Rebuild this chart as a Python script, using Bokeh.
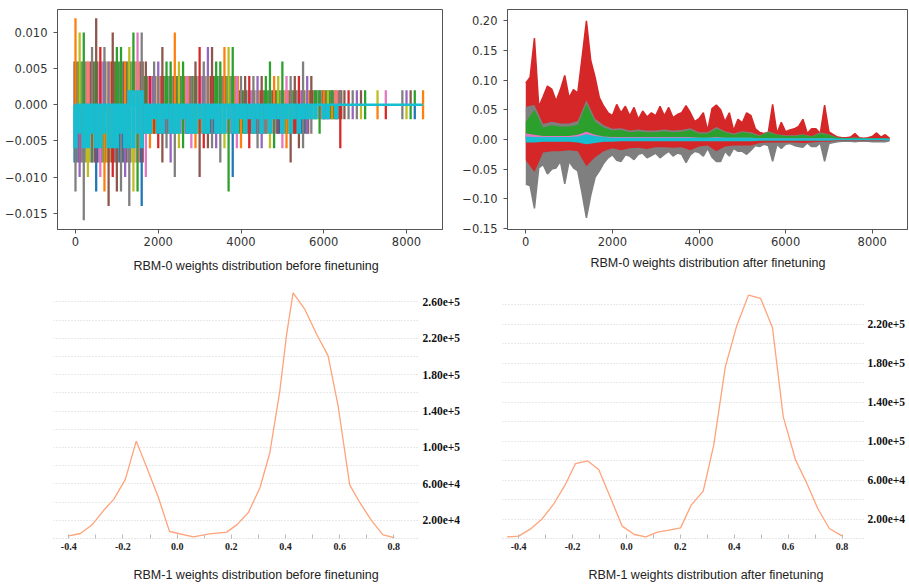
from bokeh.plotting import figure
from bokeh.layouts import column, row
from bokeh.models import FixedTicker, Range1d, Title
from bokeh.embed import file_html
from bokeh.resources import INLINE

# ---------------- data: RBM-0 before finetuning (envelopes per 100-step bin)
tl_x = list(range(0, 8401, 100))
tl_hi = [0.012, 0.010, 0.010, 0.006, 0.008, 0.012, 0.008, 0.008, 0.006, 0.010,
         0.008, 0.008, 0.006, 0.008, 0.010, 0.010, 0.010, 0.006, 0.004, 0.006,
         0.006, 0.008, 0.006, 0.006, 0.010, 0.006, 0.006, 0.004, 0.004, 0.006,
         0.008, 0.006, 0.008, 0.008, 0.006, 0.006, 0.008, 0.008, 0.008, 0.004,
         0.004, 0.004, 0.004, 0.004, 0.004, 0.004, 0.004, 0.006, 0.004, 0.004,
         0.006, 0.004, 0.004, 0.004, 0.004, 0.006, 0.004, 0.004, 0.002, 0.002,
         0.002, 0.002, 0.002, 0.002, 0.002, 0.002, 0.002, 0.002, 0.002, 0.002,
         0.002, 0.0, 0.0, 0.002, 0.0, 0.002, 0.0, 0.0, 0.0, 0.002,
         0.002, 0.002, 0.002, 0.0, 0.002]
tl_lo = [-0.012, -0.010, -0.016, -0.010, -0.008, -0.012, -0.010, -0.012, -0.014, -0.010,
         -0.012, -0.012, -0.010, -0.014, -0.012, -0.012, -0.014, -0.010, -0.006, -0.004,
         -0.006, -0.008, -0.006, -0.008, -0.010, -0.006, -0.006, -0.004, -0.006, -0.006,
         -0.010, -0.006, -0.006, -0.006, -0.006, -0.008, -0.006, -0.012, -0.010, -0.006,
         -0.006, -0.004, -0.006, -0.004, -0.006, -0.006, -0.004, -0.006, -0.006, -0.004,
         -0.006, -0.006, -0.008, -0.004, -0.006, -0.006, -0.004, -0.004, -0.002, -0.004,
         -0.002, -0.002, -0.002, -0.002, -0.006, -0.002, -0.002, -0.002, -0.002, -0.002,
         -0.002, 0.0, 0.0, -0.002, 0.0, -0.002, 0.0, 0.0, 0.0, -0.002,
         -0.002, -0.002, -0.002, 0.0, -0.002]
# dense band levels by x segment
tl_fill_start = [0, 1700, 4000, 5700, 6500]
tl_fill_end = [1700, 4000, 5700, 6500, 8500]
tl_fill_top = [0.006, 0.004, 0.002, 0.002, 0.0]
tl_fill_bot = [-0.008, -0.004, -0.004, -0.002, 0.0]
# last (cyan) series
tl_core_lo = [-0.006, -0.004, -0.006, -0.006, -0.004, -0.006, -0.006, -0.004, -0.006, -0.006,
              -0.006, -0.004, -0.006, -0.006, -0.006, -0.004, -0.006,
              -0.004, -0.004, -0.002, -0.004, -0.004, -0.002, -0.004, -0.004, -0.004, -0.002,
              -0.004, -0.004, -0.004, -0.002, -0.004, -0.004, -0.002, -0.004, -0.004, -0.004,
              -0.002, -0.004, -0.004, -0.002, -0.004, -0.002, -0.004, -0.002, -0.004, -0.002,
              -0.004, -0.002, -0.002, -0.004, -0.002, -0.004, -0.002, -0.004, -0.002,
              -0.002, -0.002, -0.002, 0.0, -0.002, -0.002, 0.0, -0.002] + [0.0] * 21
tl_core_hi = [0.0] * 13 + [0.002] * 4 + [0.0] * 68
tl_xticks = [0, 2000, 4000, 6000, 8000]
tl_yticks = [0.010, 0.005, 0.0, -0.005, -0.010, -0.015]
tl_ylabels = ["0.010", "0.005", "0.000", "\u22120.005", "\u22120.010", "\u22120.015"]

# ---------------- data: RBM-0 after finetuning
tr_x = list(range(0, 8401, 100))
tr_red_hi = [0.095, 0.105, 0.171, 0.055, 0.072, 0.090, 0.085, 0.065, 0.084, 0.108,
             0.070, 0.084, 0.078, 0.138, 0.200, 0.133, 0.105, 0.070, 0.056, 0.045,
             0.040, 0.059, 0.045, 0.056, 0.040, 0.054, 0.034, 0.048, 0.038, 0.045,
             0.040, 0.056, 0.040, 0.054, 0.037, 0.042, 0.045, 0.057, 0.045, 0.030,
             0.035, 0.045, 0.015, 0.052, 0.058, 0.050, 0.030, 0.045, 0.015, 0.034,
             0.028, 0.045, 0.040, 0.018, 0.012, 0.010, 0.012, 0.059, 0.010, 0.029,
             0.013, 0.016, 0.018, 0.022, 0.034, 0.010, 0.018, 0.018, 0.010, 0.058,
             0.013, 0.008, 0.004, 0.003, 0.003, 0.004, 0.010, 0.003, 0.002, 0.003,
             0.005, 0.011, 0.004, 0.008, 0.002]
tr_gray_lo = [-0.075, -0.078, -0.116, -0.048, -0.042, -0.058, -0.050, -0.048, -0.037, -0.075,
              -0.037, -0.048, -0.053, -0.091, -0.132, -0.094, -0.064, -0.053, -0.040, -0.031,
              -0.026, -0.035, -0.037, -0.026, -0.028, -0.034, -0.025, -0.023, -0.031, -0.027,
              -0.023, -0.031, -0.025, -0.020, -0.028, -0.023, -0.025, -0.039, -0.026, -0.020,
              -0.022, -0.028, -0.015, -0.030, -0.037, -0.037, -0.020, -0.028, -0.015, -0.020,
              -0.020, -0.025, -0.018, -0.010, -0.012, -0.008, -0.010, -0.037, -0.008, -0.015,
              -0.008, -0.007, -0.010, -0.012, -0.013, -0.006, -0.012, -0.012, -0.006, -0.037,
              -0.007, -0.005, -0.004, -0.003, -0.003, -0.003, -0.004, -0.003, -0.003, -0.003,
              -0.004, -0.004, -0.004, -0.004, -0.002]
tr_x2 = list(range(0, 8401, 200))
tr_red_lo = [-0.035, -0.055, -0.022, -0.020, -0.020, -0.018, -0.020, -0.045, -0.030, -0.020,
             -0.015, -0.018, -0.015, -0.014, -0.016, -0.013, -0.013, -0.014, -0.013, -0.018,
             -0.012, -0.010, -0.020, -0.012, -0.010, -0.010, -0.010, -0.006, -0.005, -0.005,
             -0.005, -0.005, -0.006, -0.005, -0.004, -0.004, -0.002, -0.002, -0.002, -0.002,
             -0.002, -0.002, -0.001]
tr_gray_hi = [0.055, 0.058, 0.026, 0.030, 0.027, 0.027, 0.031, 0.066, 0.035, 0.024,
              0.018, 0.019, 0.015, 0.017, 0.015, 0.015, 0.017, 0.015, 0.016, 0.019,
              0.012, 0.012, 0.021, 0.014, 0.010, 0.014, 0.012, 0.007, 0.014, 0.009,
              0.007, 0.007, 0.009, 0.006, 0.012, 0.009, 0.0035, 0.0025, 0.0035, 0.0025,
              0.0025, 0.0025, 0.0012]
tr_green_hi = [0.030, 0.050, 0.020, 0.024, 0.022, 0.022, 0.025, 0.060, 0.030, 0.020,
               0.015, 0.016, 0.012, 0.014, 0.012, 0.012, 0.014, 0.012, 0.013, 0.016,
               0.010, 0.010, 0.018, 0.012, 0.008, 0.012, 0.010, 0.006, 0.012, 0.008,
               0.006, 0.006, 0.008, 0.005, 0.010, 0.008, 0.003, 0.002, 0.003, 0.002,
               0.002, 0.002, 0.001]
tr_pink_hi = [0.010, 0.008, 0.006, 0.006, 0.006, 0.006, 0.008, 0.013, 0.008, 0.005,
              0.004, 0.004, 0.004, 0.004, 0.004, 0.004, 0.004, 0.004, 0.004, 0.004,
              0.003, 0.003, 0.004, 0.003, 0.003, 0.003, 0.003, 0.002, 0.002, 0.002,
              0.002, 0.002, 0.002, 0.002, 0.002, 0.002, 0.001, 0.001, 0.001, 0.001,
              0.001, 0.001, 0.001]
tr_cyan_hi = [0.005, 0.004, 0.004, 0.004, 0.004, 0.004, 0.005, 0.009, 0.006, 0.004,
              0.003, 0.003, 0.003, 0.003, 0.003, 0.003, 0.003, 0.003, 0.003, 0.003,
              0.003, 0.003, 0.003, 0.003, 0.003, 0.003, 0.003, 0.002, 0.002, 0.002,
              0.002, 0.002, 0.002, 0.002, 0.002, 0.002, 0.0015, 0.0015, 0.0015, 0.0015,
              0.0015, 0.0015, 0.0015]
tr_cyan_lo = [-0.005, -0.005, -0.004, -0.004, -0.004, -0.004, -0.005, -0.008, -0.006, -0.004,
              -0.004, -0.003, -0.003, -0.003, -0.003, -0.003, -0.003, -0.003, -0.003, -0.003,
              -0.003, -0.003, -0.003, -0.003, -0.003, -0.003, -0.003, -0.002, -0.002, -0.002,
              -0.002, -0.002, -0.002, -0.002, -0.002, -0.002, -0.0015, -0.0015, -0.0015, -0.0015,
              -0.0015, -0.0015, -0.0015]
tr_xticks = [0, 2000, 4000, 6000, 8000]
tr_yticks = [0.20, 0.15, 0.10, 0.05, 0.0, -0.05, -0.10, -0.15]
tr_ylabels = ["0.20", "0.15", "0.10", "0.05", "0.00", "\u22120.05", "\u22120.10", "\u22120.15"]

# ---------------- data: RBM-1 histograms
bl_x = [-0.400, -0.357, -0.314, -0.271, -0.234, -0.191, -0.151, -0.112, -0.069, -0.028,
        0.060, 0.120, 0.183, 0.220, 0.263, 0.306, 0.342, 0.379, 0.404, 0.428,
        0.471, 0.514, 0.557, 0.594, 0.637, 0.674, 0.717, 0.760, 0.802]
bl_y = [3000, 5500, 15000, 31000, 43000, 65000, 107000, 78000, 45000, 7700,
        1900, 5000, 7000, 15000, 28600, 56000, 94000, 162000, 224000, 270000,
        252000, 225000, 201000, 146000, 59000, 39600, 20000, 4000, 1000]
br_x = [-0.443, -0.400, -0.357, -0.314, -0.271, -0.228, -0.189, -0.145, -0.103, -0.059,
        -0.016, 0.029, 0.072, 0.115, 0.158, 0.201, 0.240, 0.285, 0.324, 0.367,
        0.410, 0.453, 0.498, 0.542, 0.582, 0.628, 0.667, 0.710, 0.753, 0.800]
br_y = [1700, 2400, 9600, 19800, 34900, 54700, 76900, 79700, 70800, 41700,
        12700, 4100, 1700, 6500, 8500, 10900, 34200, 48600, 95700, 176100,
        218800, 249600, 246200, 216100, 124800, 80300, 58100, 30800, 10300, 2700]
b_xticks = [-0.4, -0.2, 0.0, 0.2, 0.4, 0.6, 0.8]
b_xlabels = ["-0.4", "-0.2", "0.0", "0.2", "0.4", "0.6", "0.8"]
b_xminor = [-0.3, -0.1, 0.1, 0.3, 0.5, 0.7]
b_grid = list(range(20000, 280001, 20000))
b_yticks = [20000, 60000, 100000, 140000, 180000, 220000, 260000]
b_ylabels = ["2.00e+4", "6.00e+4", "1.00e+5", "1.40e+5", "1.80e+5", "2.20e+5", "2.60e+5"]

captions = ["RBM-0 weights distribution before finetuning",
            "RBM-0 weights distribution after finetuning",
            "RBM-1 weights distribution before finetuning",
            "RBM-1 weights distribution after finetuning"]

# ---------------- style
BLUE, ORANGE, GREEN, RED, PURPLE = "#1f77b4", "#ff7f0e", "#2ca02c", "#d62728", "#9467bd"
BROWN, PINK, GRAY, OLIVE, CYAN = "#8c564b", "#e377c2", "#7f7f7f", "#bcbd22", "#17becf"
UPPER = [BROWN, GREEN, GRAY, ORANGE, BROWN, GREEN, PINK, PURPLE, OLIVE, RED, GREEN, GRAY]
LOWER = [BLUE, BROWN, GRAY, OLIVE, PINK, RED, PURPLE, GREEN, ORANGE, BROWN, GRAY]
SPINE = "#555555"
CURVE = "#ffa37a"


def caption(p, text, offset, standoff):
    p.add_layout(Title(text=text, align="left", offset=offset, standoff=standoff,
                       text_font="Liberation Sans", text_font_size="12.5px",
                       text_font_style="normal", text_color="#222222"), "below")


def spacer(p):
    p.add_layout(Title(text=" ", standoff=0, text_font_size="10px",
                       text_color="white"), "below")


def style_top(p, xticks, yticks, ylabels):
    p.outline_line_color = SPINE
    p.xgrid.visible = False
    p.ygrid.visible = False
    p.background_fill_color = "white"
    p.border_fill_color = "white"
    p.xaxis.ticker = FixedTicker(ticks=xticks)
    p.yaxis.ticker = FixedTicker(ticks=yticks)
    p.yaxis.major_label_overrides = {t: l for t, l in zip(yticks, ylabels)}
    for ax in (p.xaxis[0], p.yaxis[0]):
        ax.axis_line_color = SPINE
        ax.major_tick_line_color = SPINE
        ax.major_tick_out = 4
        ax.major_tick_in = 0
        ax.minor_tick_line_color = None
        ax.minor_tick_out = 0
        ax.minor_tick_in = 0
        ax.major_label_standoff = 3
        ax.major_label_text_font = "DejaVu Sans"
        ax.major_label_text_font_size = "11.5px"
        ax.major_label_text_color = "#333333"
    p.yaxis.major_label_standoff = 6


def style_bottom(p):
    p.outline_line_color = None
    p.xgrid.visible = False
    p.ygrid.ticker = FixedTicker(ticks=b_grid)
    p.ygrid.grid_line_color = "#d2d2d2"
    p.ygrid.grid_line_dash = "1 2"
    p.background_fill_color = "white"
    p.border_fill_color = "white"
    ya = p.yaxis[0]
    ya.ticker = FixedTicker(ticks=b_yticks)
    ya.major_label_overrides = {t: l for t, l in zip(b_yticks, b_ylabels)}
    ya.axis_line_color = None
    ya.major_tick_line_color = None
    ya.minor_tick_line_color = None
    ya.major_tick_out = 0
    ya.major_tick_in = 0
    ya.minor_tick_out = 0
    ya.minor_tick_in = 0
    ya.major_label_standoff = 3
    ya.major_label_text_font = "Liberation Serif"
    ya.major_label_text_font_style = "bold"
    ya.major_label_text_font_size = "11.5px"
    ya.major_label_text_color = "#111111"
    xa = p.xaxis[0]
    xa.ticker = FixedTicker(ticks=b_xticks, minor_ticks=b_xminor)
    xa.major_label_overrides = {t: l for t, l in zip(b_xticks, b_xlabels)}
    xa.axis_line_color = "#cccccc"
    xa.axis_line_dash = "1 2"
    xa.major_tick_line_color = "#bbbbbb"
    xa.minor_tick_line_color = "#bbbbbb"
    xa.major_tick_in = 4
    xa.major_tick_out = 0
    xa.minor_tick_in = 4
    xa.minor_tick_out = 0
    xa.major_label_standoff = 4
    xa.major_label_text_font = "Liberation Serif"
    xa.major_label_text_font_style = "bold"
    xa.major_label_text_font_size = "10px"
    xa.major_label_text_color = "#222222"


# ---------------- panel 1
p1 = figure(width=455, height=284, x_range=Range1d(-435, 8870), y_range=Range1d(-0.01727, 0.0132),
            min_border_left=57, min_border_right=13, min_border_top=9, min_border_bottom=55,
            toolbar_location=None, output_backend="svg")
style_top(p1, tl_xticks, tl_yticks, tl_ylabels)
fill_top, fill_bot = [], []
for i, xv in enumerate(tl_x):
    ft, fb = 0.0, 0.0
    for s, e, t, b in zip(tl_fill_start, tl_fill_end, tl_fill_top, tl_fill_bot):
        if s <= xv < e:
            ft, fb = t, b
    fill_top.append(min(tl_hi[i], ft))
    fill_bot.append(max(tl_lo[i], fb))
n = len(tl_x)
p1.vbar(x=tl_x, width=102, bottom=0, top=fill_top,
        fill_color=[UPPER[i % len(UPPER)] for i in range(n)], line_color=None)
p1.vbar(x=tl_x, width=55, bottom=0, top=tl_hi,
        fill_color=[UPPER[(i * 5 + 3) % len(UPPER)] for i in range(n)], line_color=None)
p1.vbar(x=tl_x, width=102, bottom=fill_bot, top=0,
        fill_color=[LOWER[i % len(LOWER)] for i in range(n)], line_color=None)
p1.vbar(x=tl_x, width=55, bottom=tl_lo, top=0,
        fill_color=[LOWER[(i * 4 + 2) % len(LOWER)] for i in range(n)], line_color=None)
p1.vbar(x=tl_x, width=102, bottom=tl_core_lo, top=tl_core_hi, fill_color=CYAN, line_color=None)
p1.line(x=[tl_x[0], tl_x[-1]], y=[0, 0], line_color=CYAN, line_width=2.5)
caption(p1, captions[0], 76, 16)

# ---------------- panel 2
p2 = figure(width=453, height=284, x_range=Range1d(-422, 8814), y_range=Range1d(-0.1517, 0.219),
            min_border_left=52, min_border_right=1, min_border_top=7, min_border_bottom=52,
            toolbar_location=None, output_backend="svg")
style_top(p2, tr_xticks, tr_yticks, tr_ylabels)
p2.varea(x=tr_x, y1=0, y2=tr_red_hi, fill_color=RED)
p2.line(tr_x, tr_red_hi, line_color=RED, line_width=1.5)
p2.varea(x=tr_x2, y1=0, y2=tr_gray_hi, fill_color=GRAY)
p2.varea(x=tr_x, y1=tr_gray_lo, y2=0, fill_color=GRAY)
p2.line(tr_x, tr_gray_lo, line_color=GRAY, line_width=1.5)
p2.varea(x=tr_x2, y1=tr_red_lo, y2=0, fill_color=RED)
p2.varea(x=tr_x2, y1=0, y2=tr_green_hi, fill_color=GREEN)
p2.varea(x=tr_x2, y1=0, y2=tr_pink_hi, fill_color=PINK)
p2.varea(x=tr_x2, y1=tr_cyan_lo, y2=tr_cyan_hi, fill_color=CYAN)
caption(p2, captions[1], 83, 10)

# ---------------- panel 3
p3 = figure(width=463, height=300, x_range=Range1d(-0.4563, 0.8946), y_range=Range1d(0, 275824),
            y_axis_location="right", min_border_left=53, min_border_right=43,
            min_border_top=3, min_border_bottom=46, toolbar_location=None, output_backend="svg")
style_bottom(p3)
p3.line(bl_x, bl_y, line_color=CURVE, line_width=1.3)
spacer(p3)
caption(p3, captions[2], 80, 0)

# ---------------- panel 4
p4 = figure(width=445, height=300, x_range=Range1d(-0.46, 0.8835), y_range=Range1d(0, 257436),
            y_axis_location="right", min_border_left=39, min_border_right=41,
            min_border_top=3, min_border_bottom=46, toolbar_location=None, output_backend="svg")
style_bottom(p4)
p4.line(br_x, br_y, line_color=CURVE, line_width=1.3)
spacer(p4)
caption(p4, captions[3], 86, 0)

layout = column(row(p1, p2), row(p3, p4))
open("out.html", "w").write(file_html(layout, INLINE))
